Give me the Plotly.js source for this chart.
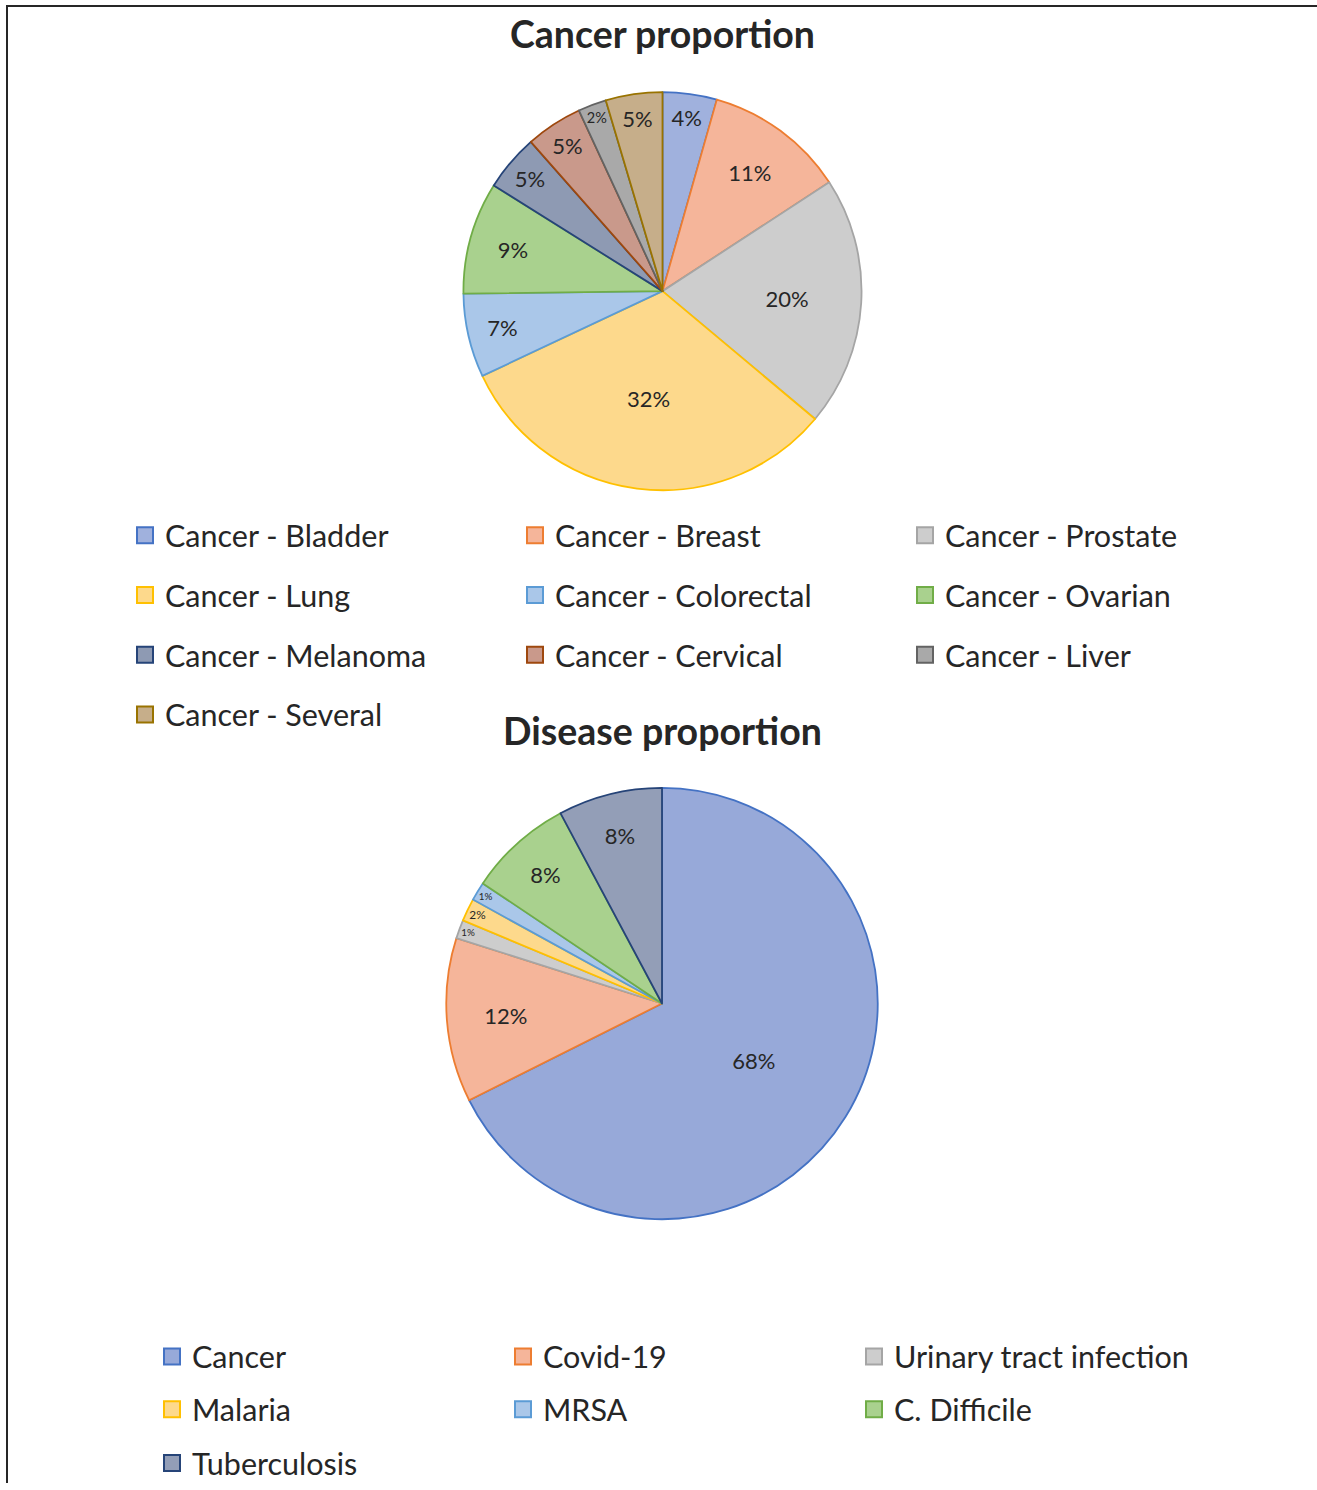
<!DOCTYPE html>
<html>
<head>
<meta charset="utf-8">
<script src="https://cdn.plot.ly/plotly-3.0.1.min.js"></script>
<style>
  html, body { margin: 0; padding: 0; background: #ffffff; }
  #chart { width: 1317px; height: 1490px; }
</style>
</head>
<body>
<div id="chart"></div>
<script>
// ---------------- data ----------------
const cancerLabels = ['Cancer - Bladder', 'Cancer - Breast', 'Cancer - Prostate', 'Cancer - Lung',
  'Cancer - Colorectal', 'Cancer - Ovarian', 'Cancer - Melanoma', 'Cancer - Cervical',
  'Cancer - Liver', 'Cancer - Several'];
const cancerValues = [4.4, 11.4, 20.3, 31.9, 6.8, 9.1, 4.6, 4.6, 2.3, 4.6];

const diseaseLabels = ['Cancer', 'Covid-19', 'Urinary tract infection', 'Malaria', 'MRSA',
  'C. Difficile', 'Tuberculosis'];
const diseaseValues = [67.6, 12.3, 1.4, 1.7, 1.4, 7.8, 7.8];

const titleCancer = 'Cancer proportion';
const titleDisease = 'Disease proportion';

// ---------------- styles ----------------
const cancerFill = ['#A0B1DD', '#F5B59A', '#CDCDCD', '#FDD98C', '#AAC7E9', '#A9D18E',
  '#8E9AB3', '#C9998B', '#A9A9A9', '#C6AE8A'];
const cancerLine = ['#4472C4', '#ED7D31', '#A5A5A5', '#FFC000', '#5B9BD5', '#70AD47',
  '#264478', '#9E480E', '#636363', '#997300'];
const diseaseFill = ['#97A9D9', '#F5B59A', '#CDCDCD', '#FDD98C', '#AAC7E9', '#A9D18E', '#939EB7'];
const diseaseLine = ['#4472C4', '#ED7D31', '#A5A5A5', '#FFC000', '#5B9BD5', '#70AD47', '#264478'];

const W = 1317, H = 1490;
const px = x => x / W;
const py = y => 1 - y / H;
const FONT = 'Lato, "Open Sans", sans-serif';
const TXT = '#262626';

const traces = [];

traces.push({
  type: 'pie',
  labels: cancerLabels,
  values: cancerValues,
  sort: false,
  direction: 'clockwise',
  rotation: 0,
  domain: { x: [px(462.5), px(862.5)], y: [py(492.5), py(92.5)] },
  marker: { colors: cancerFill, line: { color: cancerLine, width: 1.8 } },
  texttemplate: '%{percent:.0%}',
  textposition: 'inside',
  insidetextorientation: 'horizontal',
  textfont: { family: FONT, size: 22, color: TXT },
  hoverinfo: 'label+percent',
  showlegend: false
});

traces.push({
  type: 'pie',
  labels: diseaseLabels,
  values: diseaseValues,
  sort: false,
  direction: 'clockwise',
  rotation: 0,
  domain: { x: [px(445.25), px(878.75)], y: [py(1225), py(791.5)] },
  marker: { colors: diseaseFill, line: { color: diseaseLine, width: 1.8 } },
  texttemplate: '%{percent:.0%}',
  textposition: 'inside',
  insidetextorientation: 'horizontal',
  textfont: { family: FONT, size: 22, color: TXT },
  hoverinfo: 'label+percent',
  showlegend: false
});

// legend entries (one legend per row, 3 entries per row)
function legendEntries(labels, fills, lines, firstLegendIndex) {
  labels.forEach((lab, i) => {
    const li = firstLegendIndex + Math.floor(i / 3);
    traces.push({
      type: 'scatter', mode: 'markers', x: [null], y: [null],
      name: lab,
      legend: li === 1 ? 'legend' : 'legend' + li,
      marker: { symbol: 'square', size: 16, color: fills[i], line: { color: lines[i], width: 2 } },
      showlegend: true, hoverinfo: 'skip'
    });
  });
}
legendEntries(cancerLabels, cancerFill, cancerLine, 1);
legendEntries(diseaseLabels, diseaseFill, diseaseLine, 5);

function legendLayout(symX, rowY, entryW) {
  return {
    orientation: 'h', x: px(symX - 20), xanchor: 'left', y: py(rowY), yanchor: 'middle',
    entrywidth: entryW, entrywidthmode: 'pixels', itemsizing: 'trace',
    bgcolor: 'rgba(0,0,0,0)', borderwidth: 0,
    font: { family: FONT, size: 30.5, color: TXT },
    itemclick: false, itemdoubleclick: false, traceorder: 'normal'
  };
}

const layout = {
  width: W, height: H,
  margin: { l: 0, r: 0, t: 0, b: 0 },
  paper_bgcolor: '#ffffff', plot_bgcolor: '#ffffff',
  xaxis: { visible: false }, yaxis: { visible: false },
  legend: legendLayout(145, 538, 345),
  legend2: legendLayout(145, 598, 345),
  legend3: legendLayout(145, 658, 345),
  legend4: legendLayout(145, 718, 345),
  legend5: legendLayout(172, 1363, 306),
  legend6: legendLayout(172, 1416, 306),
  legend7: legendLayout(172, 1470, 306),
  annotations: [
    { text: '<b>' + titleCancer + '</b>', xref: 'paper', yref: 'paper', x: px(662), y: py(34),
      xanchor: 'center', yanchor: 'middle', showarrow: false,
      font: { family: FONT, size: 37.5, color: TXT } },
    { text: '<b>' + titleDisease + '</b>', xref: 'paper', yref: 'paper', x: px(662), y: py(734),
      xanchor: 'center', yanchor: 'middle', showarrow: false,
      font: { family: FONT, size: 37.5, color: TXT } }
  ],
  shapes: [
    { type: 'line', xref: 'paper', yref: 'paper', x0: px(7), x1: px(7), y0: py(6), y1: 0,
      line: { color: '#262626', width: 2 } },
    { type: 'line', xref: 'paper', yref: 'paper', x0: px(6), x1: 1, y0: py(6), y1: py(6),
      line: { color: '#262626', width: 2 } }
  ]
};

Plotly.newPlot('chart', traces, layout, { displayModeBar: false, staticPlot: false });
</script>
</body>
</html>
